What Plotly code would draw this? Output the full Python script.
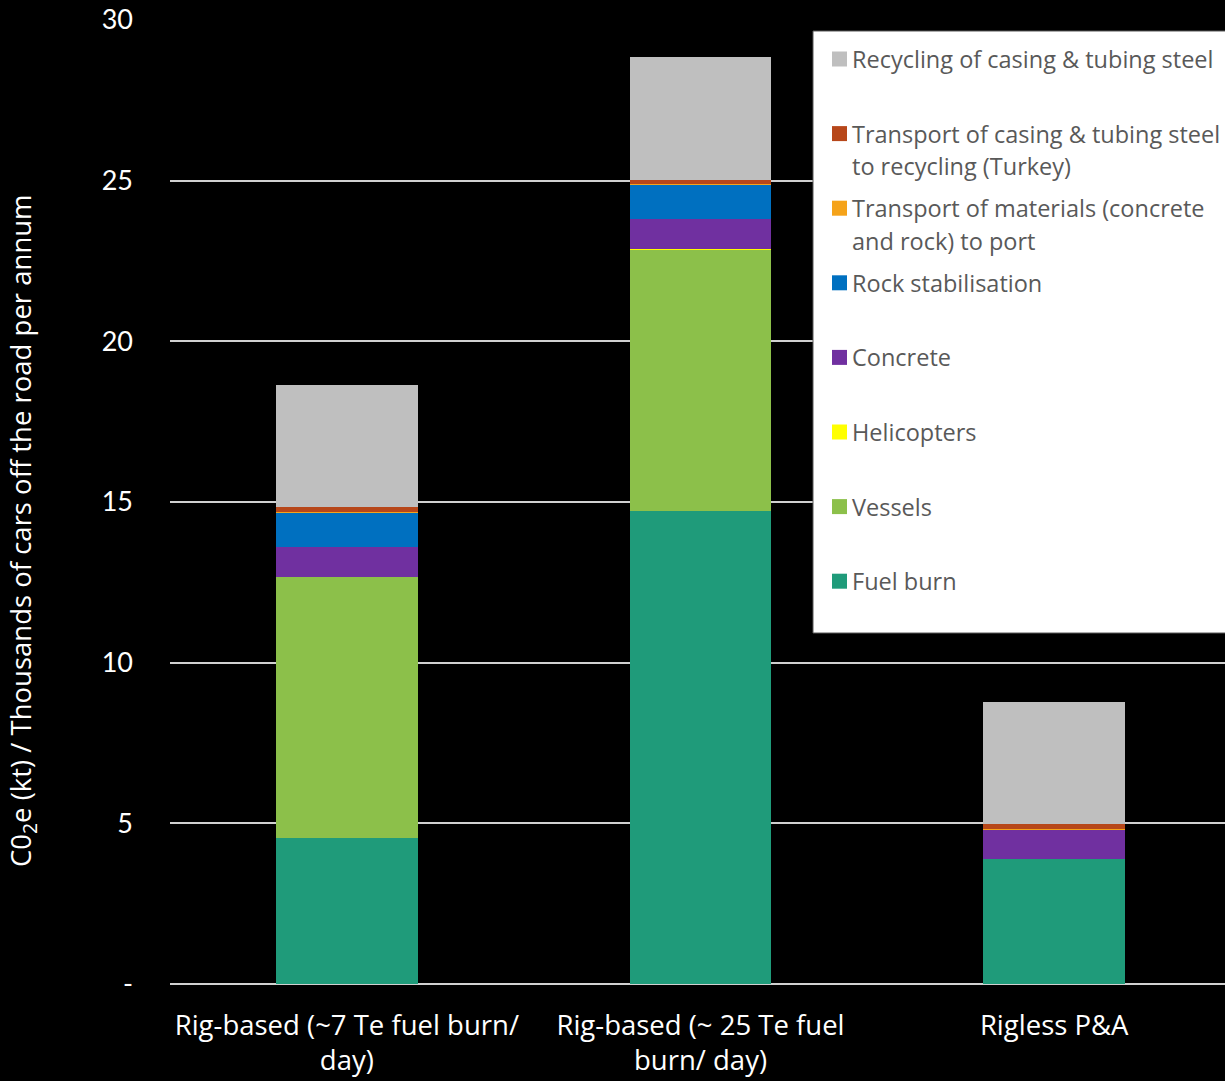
import plotly.graph_objects as go

# Decommissioning scenarios and CO2e contributions (kt / thousands of cars per annum)
categories = [
    "Rig-based (~7 Te fuel burn/<br>day)",
    "Rig-based (~ 25 Te fuel<br>burn/ day)",
    "Rigless P&A",
]

fuel_burn = [4.53, 14.72, 3.90]
vessels = [8.14, 8.15, 0.0]
helicopters = [0.01, 0.01, 0.0]
concrete = [0.93, 0.92, 0.92]
rock_stabilisation = [1.07, 1.08, 0.0]
transport_materials = [0.01, 0.01, 0.01]
transport_steel = [0.15, 0.14, 0.14]
recycling_steel = [3.79, 3.81, 3.80]

series_names = [
    "Fuel burn",
    "Vessels",
    "Helicopters",
    "Concrete",
    "Rock stabilisation",
    "Transport of materials (concrete<br>and rock) to port",
    "Transport of casing & tubing steel<br>to recycling (Turkey)",
    "Recycling of casing & tubing steel",
]
series_values = [
    fuel_burn, vessels, helicopters, concrete,
    rock_stabilisation, transport_materials, transport_steel, recycling_steel,
]
series_colors = [
    "#1F9B7A", "#8CC04A", "#FFFF00", "#7030A0",
    "#0070C0", "#F5A31A", "#B7471A", "#BFBFBF",
]

y_tick_vals = [0, 5, 10, 15, 20, 25, 30]
y_tick_text = ["-", "5", "10", "15", "20", "25", "30"]
y_title = "C0<sub>2</sub>e (kt) / Thousands of cars off the road per annum"

# Figure geometry (pixels)
W, H = 1225, 1081
ML, MR, MT, MB = 170, 0, 20, 97
PW, PH = W - ML - MR, H - MT - MB

TEXT_FONT = "Open Sans, Lato, sans-serif"


def px_x(px):
    return (px - ML) / PW


def px_y(py):
    return (H - MB - py) / PH


fig = go.Figure()
for name, vals, col in zip(series_names, series_values, series_colors):
    label = name.replace("<br>", " ")
    fig.add_trace(go.Bar(
        x=categories, y=vals, name=label,
        marker=dict(color=col, line=dict(width=0)),
        width=0.4, showlegend=False,
        hovertemplate="%{y:.2f}<extra>" + label + "</extra>",
    ))

# Legend panel: white box with swatch + label rows, top entry first
shapes = [dict(
    type="rect", xref="paper", yref="paper",
    x0=px_x(813), x1=1.01, y0=px_y(633), y1=px_y(31),
    fillcolor="white", line=dict(color="#595959", width=1), layer="above",
)]
annotations = []
row_top, row_step, line_step = 59, 74.6, 32.5
for i, (name, col) in enumerate(zip(series_names[::-1], series_colors[::-1])):
    cy = row_top + i * row_step
    shapes.append(dict(
        type="rect", xref="paper", yref="paper",
        x0=px_x(832), x1=px_x(847), y0=px_y(cy + 7.5), y1=px_y(cy - 7.5),
        fillcolor=col, line=dict(width=0), layer="above",
    ))
    for j, line in enumerate(name.split("<br>")):
        annotations.append(dict(
            xref="paper", yref="paper", x=px_x(850), y=px_y(cy + j * line_step),
            xanchor="left", yanchor="middle", text=line, showarrow=False,
            font=dict(family=TEXT_FONT, size=23.5, color="#595959"),
        ))

# Rotated y-axis title
annotations.append(dict(
    xref="paper", yref="paper", x=px_x(22), y=px_y(531),
    xanchor="center", yanchor="middle", textangle=-90,
    text=y_title, showarrow=False,
    font=dict(family=TEXT_FONT, size=27.5, color="white"),
))

fig.update_layout(
    width=W, height=H,
    margin=dict(l=ML, r=MR, t=MT, b=MB, pad=0),
    paper_bgcolor="black", plot_bgcolor="black",
    barmode="stack", bargap=0.6,
    shapes=shapes, annotations=annotations,
    showlegend=False,
    font=dict(family=TEXT_FONT, color="white"),
)
fig.update_xaxes(
    type="category", range=[-0.5, 2.483],
    showgrid=False, showline=False, zeroline=False, ticks="",
    ticklabelstandoff=22,
    tickfont=dict(family=TEXT_FONT, size=27.5, color="white"),
)
fig.update_yaxes(
    range=[0, 30], tickvals=y_tick_vals, ticktext=y_tick_text,
    showgrid=True, gridcolor="#D0D0D0", gridwidth=1.5,
    zeroline=True, zerolinecolor="#D0D0D0", zerolinewidth=1.5,
    showline=False, ticks="", ticklabelstandoff=36,
    tickfont=dict(family="Lato, Open Sans, sans-serif", size=27, color="white"),
)

fig.write_html("out.html")
